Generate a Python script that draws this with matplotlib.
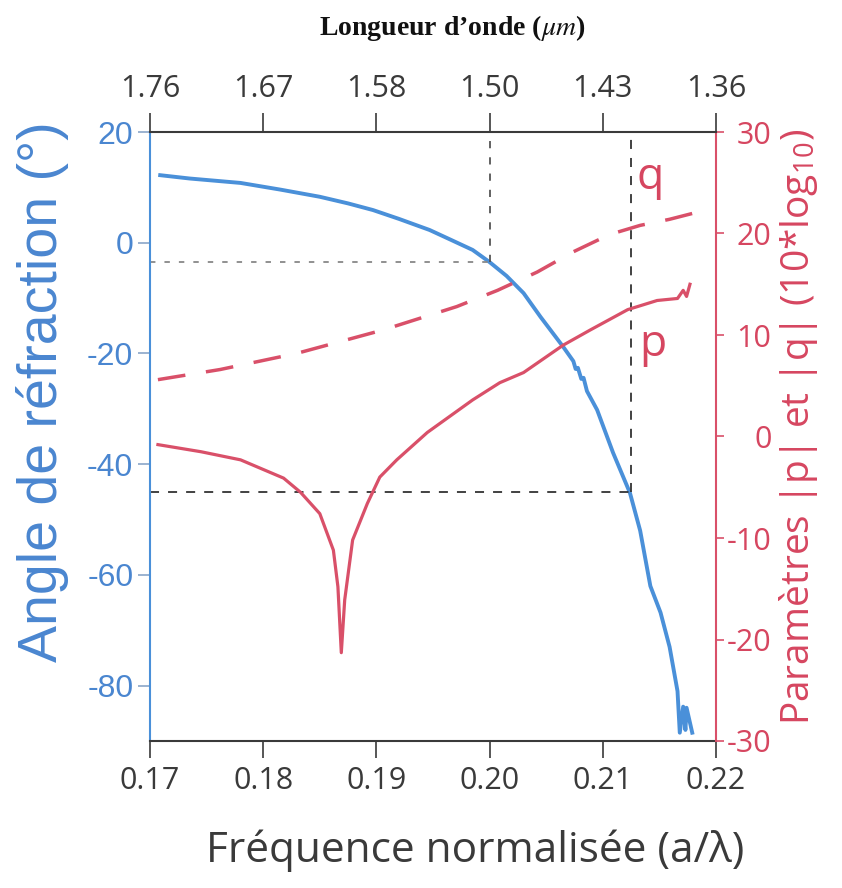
import matplotlib
matplotlib.use("Agg")
import matplotlib.pyplot as plt

plt.rcParams['mathtext.fontset'] = 'stix'

# angle de réfraction (degrés) en fonction de la fréquence normalisée a/lambda
freq_angle = [0.1709, 0.1735, 0.178, 0.1815, 0.185, 0.1875, 0.1897, 0.192, 0.1947,
              0.1965, 0.1985, 0.2, 0.2015, 0.203, 0.2045,
              0.2065, 0.2074, 0.2076, 0.2078, 0.2081, 0.2083, 0.2086, 0.2095,
              0.2109, 0.2124, 0.2133, 0.2142, 0.2151, 0.2159, 0.2166, 0.2168,
              0.2171, 0.2173, 0.2174, 0.2179]
angle = [12.2, 11.6, 10.8, 9.6, 8.3, 7.1, 5.9, 4.3, 2.3,
         0.6, -1.3, -3.5, -6.0, -9.1, -13.4,
         -18.8, -21.4, -22.8, -22.6, -24.6, -24.4, -26.8, -30.2,
         -37.9, -45.2, -52.0, -62.0, -66.8, -73.0, -81.0, -88.5,
         -83.8, -88.0, -84.0, -88.5]

# |p| en 10*log10
freq_p = [0.1707, 0.1745, 0.178, 0.1818, 0.1833, 0.185, 0.1862, 0.1866, 0.1869,
          0.1872, 0.1879, 0.1892, 0.1903, 0.1918, 0.1945, 0.1985, 0.2009,
          0.203, 0.2065, 0.2089, 0.2122, 0.2148, 0.2166, 0.2171, 0.2174, 0.2177]
p_db = [-0.8, -1.5, -2.3, -4.1, -5.5, -7.6, -11.2, -14.8, -21.3,
        -16.1, -10.2, -6.6, -4.0, -2.3, 0.4, 3.6, 5.3,
        6.3, 9.0, 10.5, 12.5, 13.4, 13.6, 14.4, 13.8, 15.0]

# |q| en 10*log10
freq_q = [0.1707, 0.1762, 0.183, 0.1906, 0.1971, 0.2007, 0.2042, 0.2074,
          0.2106, 0.2133, 0.2159, 0.218]
q_db = [5.6, 6.6, 8.2, 10.5, 12.8, 14.4, 16.2, 18.2, 19.9, 20.8, 21.4, 22.0]

# repères en pointillés
guide_freq = [0.2, 0.2125]
guide_angle = [-3.5, -45]

freq_ticks = [0.17, 0.18, 0.19, 0.20, 0.21, 0.22]
freq_labels = ["0.17", "0.18", "0.19", "0.20", "0.21", "0.22"]
wl_labels = ["1.76", "1.67", "1.58", "1.50", "1.43", "1.36"]
angle_ticks = [20, 0, -20, -40, -60, -80]
param_ticks = [30, 20, 10, 0, -10, -20, -30]

bleu = '#4a90d9'
rouge = '#d95069'
bleu_txt = '#4a86d0'
rouge_txt = '#d64660'
gris = '#3a3a3a'

fig = plt.figure(figsize=(8.42, 8.88), dpi=100)
ax = fig.add_axes([150/842, 1-741/888, 566/842, 609/888])

ax.plot(freq_angle, angle, color=bleu, lw=2.8, solid_joinstyle='round')
ax.set_xlim(0.17, 0.22)
ax.set_ylim(-90, 20)

# lignes de repère
ax.plot([0.17, guide_freq[0]], [guide_angle[0]] * 2, color='#888888', lw=1.3, dashes=(3, 5))
ax.plot([guide_freq[0]] * 2, [guide_angle[0], 20], color='#555555', lw=1.3, dashes=(4, 5))
ax.plot([0.17, guide_freq[1]], [guide_angle[1]] * 2, color='#333333', lw=1.3, dashes=(5, 5))
ax.plot([guide_freq[1]] * 2, [guide_angle[1], 20], color='#333333', lw=1.3, dashes=(5, 5))

ax.set_xticks(freq_ticks)
ax.set_xticklabels(freq_labels, fontsize=22, color=gris, family='Open Sans')
ax.set_yticks(angle_ticks)
ax.set_yticklabels([str(t) for t in angle_ticks], fontsize=23, color=bleu_txt,
                   family='Liberation Sans')
ax.tick_params(axis='x', direction='out', length=12, width=1.2, color=gris, pad=6)
ax.tick_params(axis='y', direction='out', length=9, width=1.2, color='#8aa6c8', pad=3)
ax.spines['left'].set_color(bleu)
ax.spines['left'].set_linewidth(1.5)
ax.spines['bottom'].set_color(gris)
ax.spines['bottom'].set_linewidth(1.5)
ax.spines['top'].set_visible(False)
ax.spines['right'].set_visible(False)

ax.set_xlabel("Fréquence normalisée (a/λ)", fontsize=30.5, color=gris,
              family='Open Sans')
ax.xaxis.set_label_coords(0.574, -0.145)
ax.set_ylabel("Angle de réfraction (°)", fontsize=40, color=bleu_txt,
              family='Liberation Sans')
ax.yaxis.set_label_coords(-0.143, 0.573)

# axe droit : paramètres p et q
ax2 = ax.twinx()
ax2.plot(freq_p, p_db, color=rouge, lw=2.3)
ax2.plot(freq_q, q_db, color=rouge, lw=2.5, dashes=(8, 6))
ax2.set_ylim(-30, 30)
ax2.set_yticks(param_ticks)
ax2.set_yticklabels([str(t) for t in param_ticks], fontsize=22,
                    color=rouge_txt, family='Open Sans', ha='right')
ax2.tick_params(axis='y', direction='out', length=6, width=1.2, color=rouge, pad=34)
ax2.spines['right'].set_color(rouge)
ax2.spines['right'].set_linewidth(1.5)
for s in ['left', 'top', 'bottom']:
    ax2.spines[s].set_visible(False)
ax2.set_ylabel("Paramètres |p| et |q| (10*log$_\\mathregular{10}$)", fontsize=28,
               color=rouge_txt, family='Open Sans')
ax2.yaxis.set_label_coords(1.108, 0.516)
ax2.text(0.2142, 25.5, "q", fontsize=32, color=rouge_txt, family='Open Sans',
         ha='center', va='center')
ax2.text(0.2144, 9.0, "p", fontsize=32, color=rouge_txt, family='Open Sans',
         ha='center', va='center')

# axe du haut : longueur d'onde
ax3 = ax.twiny()
ax3.set_xlim(ax.get_xlim())
ax3.set_xticks(freq_ticks)
ax3.set_xticklabels(wl_labels, fontsize=22, color=gris, family='Open Sans')
ax3.tick_params(axis='x', direction='out', length=14, width=1.2, color=gris, pad=6)
ax3.spines['top'].set_color(gris)
ax3.spines['top'].set_linewidth(1.5)
for s in ['left', 'right', 'bottom']:
    ax3.spines[s].set_visible(False)

fig.text(452/842, 1-28/888, "Longueur d’onde ($\\mu m$)", fontsize=20, fontweight='bold',
         family='Liberation Serif', ha='center', va='center', color='#111111')

fig.savefig("out.png", dpi=100)
